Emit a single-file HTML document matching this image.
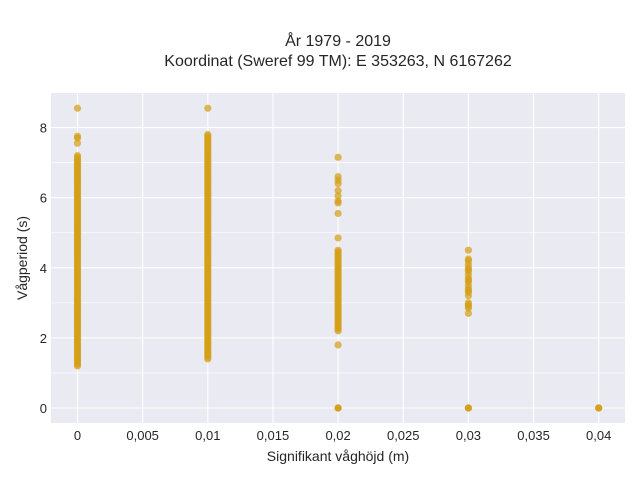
<!DOCTYPE html>
<html><head><meta charset="utf-8"><style>
body{margin:0;background:#fff;font-family:"Liberation Sans",sans-serif;}
svg text{font-family:"Liberation Sans",sans-serif;fill:#262626;}
</style></head><body>
<svg width="640" height="480">
<text x="338" y="46" text-anchor="middle" font-size="16">År 1979 - 2019</text>
<text x="338" y="66" text-anchor="middle" font-size="16">Koordinat (Sweref 99 TM): E 353263, N 6167262</text>
<rect x="51" y="93" width="574" height="330" fill="#eaeaf2"/>
<g id="grid"></g><g id="pts"></g><g id="ticks"></g>
<text x="338" y="461" text-anchor="middle" font-size="14">Signifikant våghöjd (m)</text>
<text transform="translate(27,258) rotate(-90)" text-anchor="middle" font-size="14">Vågperiod (s)</text>
</svg>
<script>
const xTicks=[0,0.005,0.01,0.015,0.02,0.025,0.03,0.035,0.04];
const xTickLabels=["0","0,005","0,01","0,015","0,02","0,025","0,03","0,035","0,04"];
const yTicks=[0,2,4,6,8];
const yMinor=[1,3,5,7];
const hCol0=0, hCol1=0.01, hCol2=0.02, hCol3=0.03, hCol4=0.04;
const tCol0=[8.55,7.75,7.7,7.55,7.2,7.15,7.1,7.05,7.0,6.95,6.9,6.85,6.8,6.75,6.7,6.65,6.6,6.55,6.5,6.45,6.4,6.35,6.3,6.25,6.2,6.15,6.1,6.05,6.0,5.95,5.9,5.85,5.8,5.75,5.7,5.65,5.6,5.55,5.5,5.45,5.4,5.35,5.3,5.25,5.2,5.15,5.1,5.05,5.0,4.95,4.9,4.85,4.8,4.75,4.7,4.65,4.6,4.55,4.5,4.45,4.4,4.35,4.3,4.25,4.2,4.15,4.1,4.05,4.0,3.95,3.9,3.85,3.8,3.75,3.7,3.65,3.6,3.55,3.5,3.45,3.4,3.35,3.3,3.25,3.2,3.15,3.1,3.05,3.0,2.95,2.9,2.85,2.8,2.75,2.7,2.65,2.6,2.55,2.5,2.45,2.4,2.35,2.3,2.25,2.2,2.15,2.1,2.05,2.0,1.95,1.9,1.85,1.8,1.75,1.7,1.65,1.6,1.55,1.5,1.45,1.4,1.35,1.3,1.25,1.2];
const tCol1=[8.55,7.8,7.75,7.7,7.65,7.6,7.55,7.5,7.45,7.4,7.35,7.3,7.25,7.2,7.15,7.1,7.05,7.0,6.95,6.9,6.85,6.8,6.75,6.7,6.65,6.6,6.55,6.5,6.45,6.4,6.35,6.3,6.25,6.2,6.15,6.1,6.05,6.0,5.95,5.9,5.85,5.8,5.75,5.7,5.65,5.6,5.55,5.5,5.45,5.4,5.35,5.3,5.25,5.2,5.15,5.1,5.05,5.0,4.95,4.9,4.85,4.8,4.75,4.7,4.65,4.6,4.55,4.5,4.45,4.4,4.35,4.3,4.25,4.2,4.15,4.1,4.05,4.0,3.95,3.9,3.85,3.8,3.75,3.7,3.65,3.6,3.55,3.5,3.45,3.4,3.35,3.3,3.25,3.2,3.15,3.1,3.05,3.0,2.95,2.9,2.85,2.8,2.75,2.7,2.65,2.6,2.55,2.5,2.45,2.4,2.35,2.3,2.25,2.2,2.15,2.1,2.05,2.0,1.95,1.9,1.85,1.8,1.75,1.7,1.65,1.6,1.55,1.5,1.45,1.4];
const tCol2=[7.15,6.6,6.5,6.4,6.2,6.05,5.9,5.85,5.55,4.85,4.5,4.45,4.4,4.35,4.3,4.25,4.2,4.15,4.1,4.05,4.0,3.95,3.9,3.85,3.8,3.75,3.7,3.65,3.6,3.55,3.5,3.45,3.4,3.35,3.3,3.25,3.2,3.15,3.1,3.05,3.0,2.95,2.9,2.85,2.8,2.75,2.7,2.65,2.6,2.55,2.5,2.45,2.4,2.35,2.3,2.25,2.2,1.8,0,0,0];
const tCol3=[4.5,4.25,4.2,4.1,4.0,3.95,3.9,3.8,3.7,3.65,3.6,3.5,3.4,3.35,3.3,3.2,3.0,2.95,2.9,2.85,2.7,0,0,0];
const tCol4=[0,0,0];
const X=v=>77.5+v*13030, Y=v=>408-v*35.06;
const NS="http://www.w3.org/2000/svg";
function mk(t,a,p){const e=document.createElementNS(NS,t);for(const k in a)e.setAttribute(k,a[k]);p.appendChild(e);return e;}
const grid=document.getElementById('grid'),pts=document.getElementById('pts'),tk=document.getElementById('ticks');
yMinor.forEach(v=>{const l=mk('line',{x1:51,x2:625,y1:Y(v),y2:Y(v),stroke:'#fff','stroke-width':0.6},grid);

});
yTicks.forEach(v=>{const l=mk('line',{x1:51,x2:625,y1:Y(v),y2:Y(v),stroke:'#fff','stroke-width':1.1},grid);


const t=mk('text',{x:47,y:Y(v)+5,'text-anchor':'end','font-size':13},tk);t.textContent=v;

});
xTicks.forEach((v,i)=>{const l=mk('line',{x1:X(v),x2:X(v),y1:93,y2:423,stroke:'#fff','stroke-width':1.1},grid);


const t=mk('text',{x:X(v),y:440,'text-anchor':'middle','font-size':13},tk);t.textContent=xTickLabels[i];

});
[[hCol0,tCol0],[hCol1,tCol1],[hCol2,tCol2],[hCol3,tCol3],[hCol4,tCol4]].forEach(([h,arr])=>arr.forEach(t=>{
const c=mk('circle',{cx:X(h),cy:Y(t),r:3.6,fill:'#d4a017','fill-opacity':0.72},pts);

}));
</script>
</body></html>
